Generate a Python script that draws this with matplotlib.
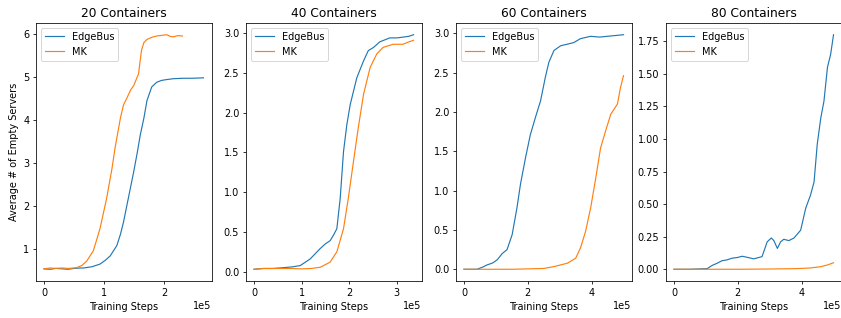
import numpy as np
import matplotlib
matplotlib.use("Agg")
import matplotlib.pyplot as plt
from matplotlib.ticker import MultipleLocator

# data (x in units of 1e5 training steps)
titles = ["20 Containers", "40 Containers", "60 Containers", "80 Containers"]

# 20 containers
x20_edge = [0, 0.1, 0.2, 0.3, 0.4, 0.5, 0.6, 0.66, 0.8, 0.93, 1.02, 1.1, 1.21, 1.27, 1.32, 1.40, 1.49, 1.55, 1.60,
            1.66, 1.71, 1.79, 1.87, 1.95, 2.04, 2.15, 2.31, 2.45, 2.65]
y20_edge = [0.55, 0.54, 0.56, 0.55, 0.54, 0.56, 0.57, 0.57, 0.60, 0.66, 0.75, 0.85, 1.09, 1.35, 1.63, 2.18, 2.80,
            3.25, 3.66, 4.05, 4.45, 4.77, 4.875, 4.92, 4.94, 4.96, 4.97, 4.97, 4.98]
x20_mk = [0, 0.1, 0.2, 0.3, 0.4, 0.5, 0.55, 0.63, 0.71, 0.82, 0.93, 1.04, 1.13, 1.18, 1.27, 1.32, 1.38, 1.44, 1.49,
          1.57, 1.62, 1.66, 1.71, 1.79, 1.87, 2.04, 2.10, 2.15, 2.22, 2.30]
y20_mk = [0.55, 0.57, 0.56, 0.57, 0.56, 0.57, 0.58, 0.63, 0.73, 0.97, 1.48, 2.18, 2.88, 3.35, 4.05, 4.35, 4.52, 4.70,
          4.80, 5.07, 5.62, 5.80, 5.87, 5.92, 5.95, 5.98, 5.94, 5.93, 5.96, 5.95]

# 40 containers
x40_edge = [0, 0.2, 0.4, 0.62, 0.8, 0.97, 1.18, 1.39, 1.50, 1.60, 1.67, 1.74, 1.81, 1.88, 1.95, 2.02, 2.16, 2.30,
            2.40, 2.51, 2.64, 2.85, 3.0, 3.13, 3.25, 3.35]
y40_edge = [0.03, 0.04, 0.04, 0.05, 0.06, 0.076, 0.16, 0.29, 0.35, 0.39, 0.46, 0.54, 0.92, 1.51, 1.85, 2.10, 2.44,
            2.65, 2.78, 2.82, 2.89, 2.94, 2.94, 2.95, 2.96, 2.98]
x40_mk = [0, 0.2, 0.4, 0.6, 0.8, 1.0, 1.2, 1.39, 1.60, 1.74, 1.88, 1.98, 2.09, 2.19, 2.30, 2.44, 2.58, 2.71, 2.92,
          3.13, 3.25, 3.35]
y40_mk = [0.03, 0.04, 0.04, 0.04, 0.04, 0.035, 0.04, 0.055, 0.12, 0.25, 0.54, 0.92, 1.39, 1.81, 2.23, 2.57, 2.74,
          2.82, 2.86, 2.86, 2.89, 2.91]

# 60 containers
x60_edge = [0, 0.2, 0.41, 0.6, 0.72, 0.9, 1.04, 1.20, 1.35, 1.51, 1.66, 1.77, 1.93, 2.08, 2.24, 2.40, 2.55, 2.66,
            2.82, 3.03, 3.24, 3.44, 3.65, 3.97, 4.25, 4.49, 5.0]
y60_edge = [0.0, 0.0, 0.0, 0.03, 0.055, 0.08, 0.12, 0.20, 0.25, 0.44, 0.78, 1.08, 1.42, 1.71, 1.93, 2.14, 2.44, 2.63,
            2.78, 2.84, 2.86, 2.88, 2.93, 2.96, 2.95, 2.96, 2.98]
x60_mk = [0, 0.5, 1.0, 1.5, 2.0, 2.50, 2.82, 3.24, 3.50, 3.65, 3.81, 3.97, 4.13, 4.28, 4.44, 4.60, 4.81, 4.90, 5.0]
y60_mk = [0.0, 0.0, 0.0, 0.0, 0.005, 0.01, 0.034, 0.077, 0.14, 0.27, 0.48, 0.78, 1.16, 1.54, 1.76, 1.97, 2.10,
          2.30, 2.46]

# 80 containers
x80_edge = [0, 0.5, 1.04, 1.20, 1.35, 1.50, 1.66, 1.82, 1.98, 2.14, 2.29, 2.50, 2.76, 2.92, 3.05, 3.13, 3.24, 3.34,
            3.44, 3.60, 3.76, 3.97, 4.13, 4.28, 4.39, 4.49, 4.60, 4.70, 4.81, 4.91, 5.0]
y80_edge = [0.0, 0.0, 0.005, 0.03, 0.046, 0.065, 0.072, 0.085, 0.09, 0.10, 0.092, 0.08, 0.097, 0.21, 0.24, 0.22,
            0.16, 0.21, 0.23, 0.22, 0.24, 0.30, 0.47, 0.57, 0.67, 0.96, 1.16, 1.29, 1.55, 1.65, 1.80]
x80_mk = [0, 1.0, 2.0, 3.0, 3.86, 4.28, 4.60, 4.81, 5.0]
y80_mk = [0.0, 0.0, 0.0, 0.002, 0.005, 0.01, 0.02, 0.033, 0.05]

edge_series = [(x20_edge, y20_edge), (x40_edge, y40_edge), (x60_edge, y60_edge), (x80_edge, y80_edge)]
mk_series = [(x20_mk, y20_mk), (x40_mk, y40_mk), (x60_mk, y60_mk), (x80_mk, y80_mk)]
x_steps = [1e5, 1e5, 2e5, 2e5]

W, H = 841, 318
fig = plt.figure(figsize=(W / 70, H / 70), dpi=70)

for i in range(4):
    left = 36 + 210 * i
    ax = fig.add_axes([left / W, (H - 281) / H, 175.5 / W, 258 / H])
    xe, ye = edge_series[i]
    xm, ym = mk_series[i]
    ax.plot(np.array(xe) * 1e5, ye, label="EdgeBus", color="#1f77b4", lw=1.2)
    ax.plot(np.array(xm) * 1e5, ym, label="MK", color="#ff7f0e", lw=1.2)
    ax.set_title(titles[i], fontsize=12.6)
    ax.set_xlabel("Training Steps")
    ax.xaxis.set_major_locator(MultipleLocator(x_steps[i]))
    ax.ticklabel_format(axis="x", style="sci", scilimits=(0, 0))
    ax.legend(loc="upper left")
    if i == 0:
        ax.set_ylabel("Average # of Empty Servers")

fig.savefig("out.png", dpi=70)
